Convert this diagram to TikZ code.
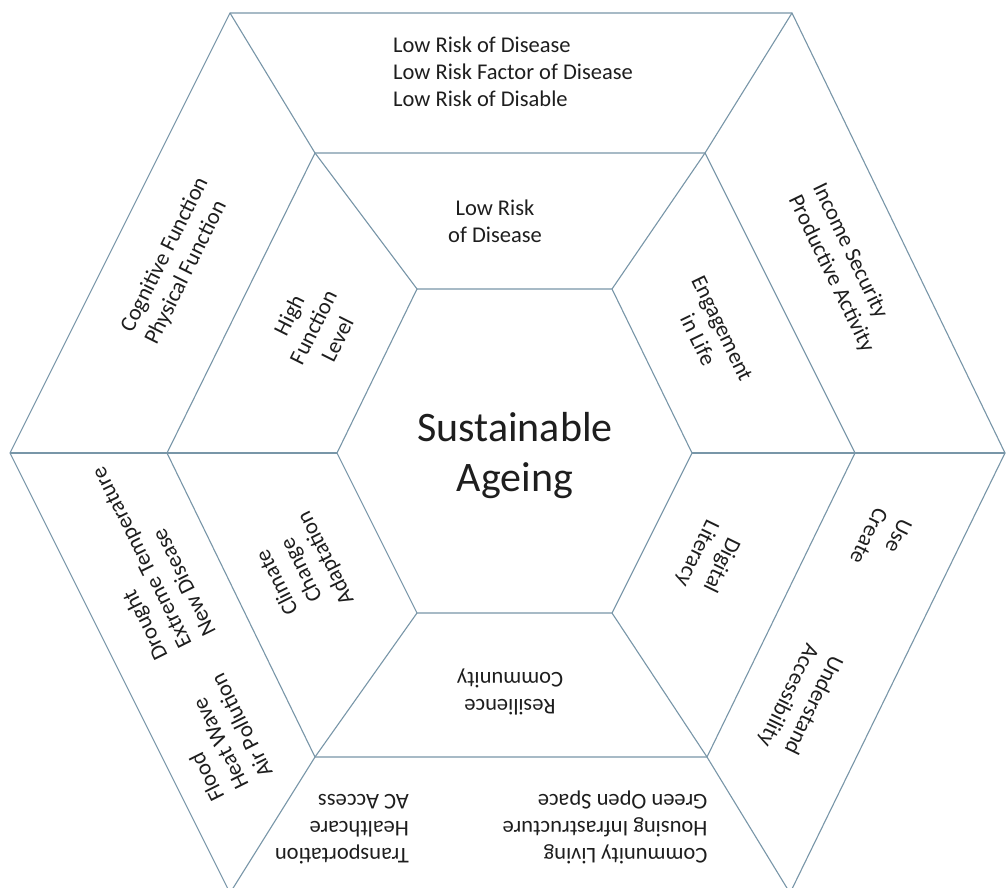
\documentclass[tikz,border=0pt]{standalone}
\usepackage{fontspec}
\setmainfont{Carlito}
\definecolor{linec}{RGB}{120,150,168}
\definecolor{txt}{RGB}{30,30,30}
\begin{document}
\begin{tikzpicture}[x=1pt,y=-1pt,
  hexline/.style={draw=linec, line width=1.1pt, line join=miter},
  lbl/.style={font=\fontsize{22.5}{27}\selectfont, inner sep=0pt, text=txt},
  big/.style={font=\fontsize{42}{50}\selectfont, inner sep=0pt, text=txt, align=center},
]
\useasboundingbox[fill=white] (0,0) rectangle (1006,888);
% outer hexagon
\coordinate (O1) at (230,13);
\coordinate (O2) at (792,13);
\coordinate (O3) at (1005,453);
\coordinate (O4) at (790,893);
\coordinate (O5) at (230,893);
\coordinate (O6) at (10,453);
% middle hexagon
\coordinate (M1) at (315,153);
\coordinate (M2) at (705,153);
\coordinate (M3) at (855,453);
\coordinate (M4) at (707,757);
\coordinate (M5) at (315,757);
\coordinate (M6) at (167,453);
% inner hexagon
\coordinate (I1) at (417,289);
\coordinate (I2) at (612,289);
\coordinate (I3) at (692,453);
\coordinate (I4) at (612,613);
\coordinate (I5) at (417,613);
\coordinate (I6) at (337,453);

\draw[hexline] (O1) -- (O2) -- (O3) -- (O4) -- (O5) -- (O6) -- cycle;
\draw[hexline] (M1) -- (M2) -- (M3) -- (M4) -- (M5) -- (M6) -- cycle;
\draw[hexline] (I1) -- (I2) -- (I3) -- (I4) -- (I5) -- (I6) -- cycle;
\foreach \k in {1,...,6}{
  \draw[hexline] (O\k) -- (M\k) -- (I\k);
}

% centre
\node[big] (sa) at (515,456) {Sustainable\\Ageing};

% top
\node[lbl, align=left, anchor=west] (top) at (393,72) {Low Risk of Disease\\Low Risk Factor of Disease\\Low Risk of Disable};
\node[lbl, align=center] (lrd) at (495,221) {Low Risk\\of Disease};

% upper left
\node[lbl, align=left, rotate=63.5] (cog) at (177,261) {Cognitive Function\\Physical Function};
\node[lbl, align=center, rotate=63.5] (hfl) at (313,327) {High\\Function\\Level};

% upper right
\node[lbl, align=left, rotate=-64.2] (inc) at (843,268) {Income Security\\Productive Activity};
\node[lbl, align=center, rotate=-64.2] (eng) at (710,334) {Engagement\\in Life};

% lower left
\node[lbl, align=left, rotate=116.5] (dro) at (141,558) {Drought\\Extreme Temperature\\New Disease};
\node[lbl, align=left, rotate=116.5] (flo) at (217,738) {Flood\\Heat Wave\\Air Pollution};
\node[lbl, align=center, rotate=116.5] (cli) at (302,570) {Climate\\Change\\Adaptation};

% bottom
\node[lbl, align=center, rotate=180] (res) at (510,692) {Resilience\\Community};
\node[lbl, align=left, rotate=180] (tra) at (342,829) {Transportation\\Healthcare\\AC Access};
\node[lbl, align=left, rotate=180] (com) at (605,827) {Community Living\\Housing Infrastructure\\Green Open Space};

% lower right
\node[lbl, align=center, rotate=-116] (dig) at (709,559) {Digital\\Literacy};
\node[lbl, align=left, rotate=-116] (use) at (881,542) {Use\\Create};
\node[lbl, align=left, rotate=-116] (und) at (800,701) {Understand\\Accessibility};
\end{tikzpicture}
\end{document}
